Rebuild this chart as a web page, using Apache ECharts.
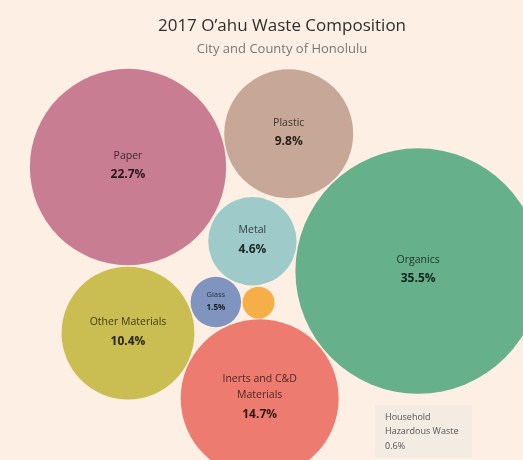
<!DOCTYPE html>
<html>
<head>
<meta charset="utf-8">
<script src="https://cdn.jsdelivr.net/npm/echarts@6/dist/echarts.min.js"></script>
<style>
  html, body { margin: 0; padding: 0; background: #fdefe3; }
  #chart { width: 523px; height: 460px; }
</style>
</head>
<body>
<div id="chart"></div>
<script>
var categories = ['Organics', 'Paper', 'Inerts and C&D\nMaterials', 'Other Materials', 'Plastic', 'Metal', 'Glass', 'Household\nHazardous Waste'];
var shares = [35.5, 22.7, 14.7, 10.4, 9.8, 4.6, 1.5, 0.6];
var colors = ['#66b08b', '#c97d93', '#ee7b70', '#cabd52', '#c7a797', '#9ecbca', '#7f95bf', '#f6ae48'];

(function() {
  var chart = echarts.init(document.getElementById('chart'), null, { renderer: 'canvas' });

  // radius in px is proportional to sqrt(share)
  var k = 20.6;
  var pad = 1.5;
  var idx = {};
  categories.forEach(function(c, i) { idx[c.split('\n')[0]] = i; });
  var circles = shares.map(function(v) { return { r: k * Math.sqrt(v), x: 0, y: 0 }; });
  function C(name) { return circles[idx[name]]; }

  function atAngle(from, c, deg) {
    var a = deg * Math.PI / 180, d = from.r + c.r + pad;
    c.x = from.x + d * Math.cos(a);
    c.y = from.y + d * Math.sin(a);
  }
  function tangent(A, B, c, side) {
    var dx = B.x - A.x, dy = B.y - A.y, D = Math.sqrt(dx * dx + dy * dy);
    var d1 = A.r + c.r + pad, d2 = B.r + c.r + pad;
    var a = (d1 * d1 - d2 * d2 + D * D) / (2 * D);
    var h = Math.sqrt(Math.max(0, d1 * d1 - a * a));
    var ux = dx / D, uy = dy / D;
    c.x = A.x + a * ux - side * h * uy;
    c.y = A.y + a * uy + side * h * ux;
  }

  // packing recipe (paper sits at the origin)
  atAngle(C('Paper'), C('Plastic'), -11.7);
  atAngle(C('Plastic'), C('Organics'), 46.7);
  atAngle(C('Paper'), C('Other Materials'), 90);
  tangent(C('Other Materials'), C('Organics'), C('Inerts and C&D'), 1);
  tangent(C('Other Materials'), C('Inerts and C&D'), C('Glass'), -1);
  tangent(C('Glass'), C('Organics'), C('Metal'), -1);
  tangent(C('Glass'), C('Metal'), C('Household'), 1);

  function darken(hex, f) {
    var n = parseInt(hex.slice(1), 16);
    var r = Math.round(((n >> 16) & 255) * (1 - f));
    var g = Math.round(((n >> 8) & 255) * (1 - f));
    var b = Math.round((n & 255) * (1 - f));
    return 'rgb(' + r + ',' + g + ',' + b + ')';
  }

  var data = categories.map(function(name, i) {
    var small = shares[i] < 2;
    var hidden = shares[i] < 1;
    return {
      name: name,
      value: [circles[i].x, circles[i].y, shares[i]],
      symbolSize: circles[i].r * 2,
      itemStyle: { color: colors[i], opacity: 1 },
      label: {
        show: !hidden,
        formatter: '{n|' + name.split('\n').join('}\n{n|') + '}\n{v|' + shares[i].toFixed(1) + '%}',
        rich: {
          n: { fontFamily: 'Open Sans', fontSize: small ? 7.5 : 10.5, lineHeight: small ? 11 : 16, color: darken(colors[i], 0.68) },
          v: { fontFamily: 'Open Sans', fontSize: small ? 8 : 12, fontWeight: 'bold', lineHeight: small ? 14 : 22, color: darken(colors[i], 0.8) }
        }
      }
    };
  });

  chart.setOption({
    animation: false,
    backgroundColor: '#fdefe3',
    grid: { left: 0, right: 0, top: 0, bottom: 0 },
    xAxis: { type: 'value', min: -128, max: 395, show: false },
    yAxis: { type: 'value', min: -167, max: 293, inverse: true, show: false },
    graphic: [
      { type: 'text', x: 282, y: 26, style: { text: "2017 O\u2019ahu Waste Composition", fill: '#2e2e2e', font: '17px "Open Sans"', textAlign: 'center', textVerticalAlign: 'middle' } },
      { type: 'text', x: 282, y: 49, style: { text: 'City and County of Honolulu', fill: '#777', font: '13px "Open Sans"', textAlign: 'center', textVerticalAlign: 'middle' } },
      { type: 'rect', right: 51, bottom: 2, shape: { width: 97, height: 53 }, style: { fill: '#f4ebe3' } },
      { type: 'text', x: 385, y: 410, style: { text: 'Household\nHazardous Waste\n' + shares[7].toFixed(1) + '%', fill: '#555', font: '9px "Open Sans"', lineHeight: 14.5 } }
    ],
    series: [{
      type: 'scatter',
      symbol: 'circle',
      data: data,
      label: { show: true, position: 'inside', align: 'center' },
      emphasis: { disabled: true }
    }]
  });
  window.addEventListener('resize', function() { chart.resize(); });
})();
</script>
</body>
</html>
